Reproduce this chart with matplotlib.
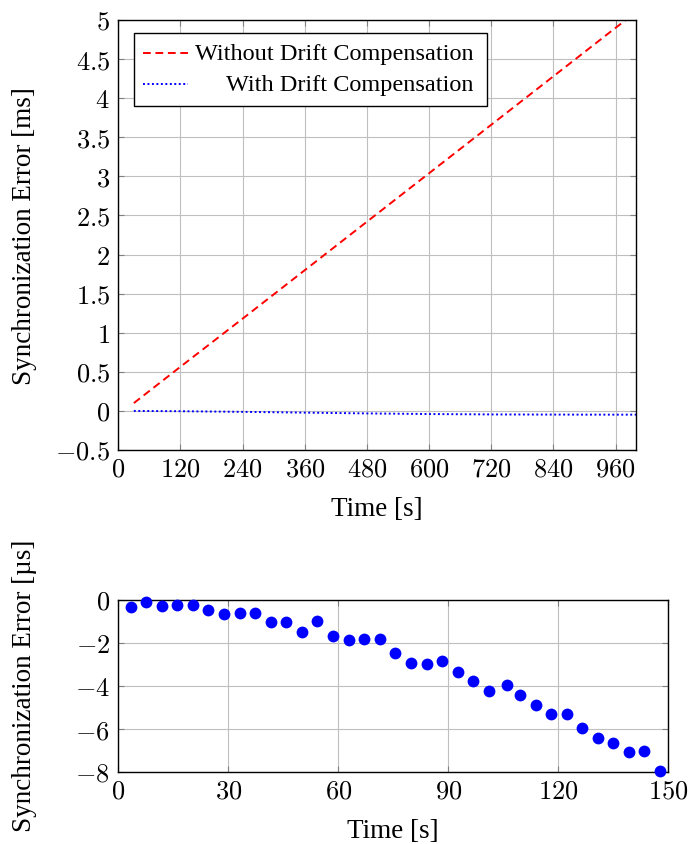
import matplotlib
matplotlib.use("Agg")
import matplotlib.pyplot as plt
from matplotlib.ticker import FuncFormatter
from matplotlib.patches import Rectangle
from matplotlib.lines import Line2D

# ---- data: top chart (long run) ----
t_long = [30, 120, 240, 360, 480, 600, 720, 840, 960, 1000]
err_no_comp = [0.10, 0.565, 1.18, 1.80, 2.42, 3.04, 3.66, 4.28, 4.90, 5.10]
err_comp = [0.000, -0.004, -0.012, -0.022, -0.032, -0.040, -0.045, -0.047, -0.048, -0.048]
legend_labels = ["Without Drift Compensation", "With Drift Compensation"]
x_ticks_top = [0, 120, 240, 360, 480, 600, 720, 840, 960]
y_ticks_top = [-0.5, 0, 0.5, 1, 1.5, 2, 2.5, 3, 3.5, 4, 4.5, 5]

# ---- data: bottom chart (short run, microseconds) ----
t_short = [3.4, 7.6, 11.8, 16.1, 20.4, 24.5, 28.8, 33.1, 37.3, 41.6, 45.8, 50.1,
           54.3, 58.6, 62.8, 67.1, 71.3, 75.5, 79.8, 84.3, 88.3, 92.6, 96.8, 101.1,
           105.9, 109.5, 113.8, 118.1, 122.3, 126.5, 130.8, 135.0, 139.3, 143.5, 147.8]
err_short = [-0.34, -0.08, -0.28, -0.25, -0.22, -0.45, -0.65, -0.62, -0.59, -1.03,
             -1.01, -1.50, -0.96, -1.66, -1.86, -1.83, -1.80, -2.47, -2.94, -2.97,
             -2.86, -3.33, -3.77, -4.22, -3.96, -4.41, -4.87, -5.32, -5.28, -5.97,
             -6.42, -6.64, -7.07, -7.04, -7.97]
x_ticks_bot = [0, 30, 60, 90, 120, 150]
y_ticks_bot = [-8, -6, -4, -2, 0]

plt.rcParams['mathtext.fontset'] = 'cm'
FS_TICK = 19
FS_LAB = 19.5
FS_LEG = 17.5
serif = ['Liberation Serif', 'DejaVu Serif']
LW = 1.4
DASH = (0, (4.0, 2.4))
DOT = (0, (1.0, 1.3))

fig = plt.figure(figsize=(6.91, 8.44), dpi=100)
W, H = 691.0, 844.0

def style(ax):
    ax.grid(True, color='#bfbfbf', linewidth=0.8)
    ax.set_axisbelow(True)
    ax.tick_params(direction='in', length=4.5, width=0.8, color='#808080',
                   top=True, right=True, labelsize=FS_TICK)
    ax.tick_params(axis='x', pad=5)
    ax.tick_params(axis='y', pad=6)
    for s in ax.spines.values():
        s.set_linewidth(1.0)
        s.set_color('black')
    fmt = FuncFormatter(lambda v, p: r'$%g$' % v)
    ax.xaxis.set_major_formatter(fmt)
    ax.yaxis.set_major_formatter(fmt)

# top axes
ax1 = fig.add_axes([118.3 / W, 1 - 450 / H, 518 / W, 430 / H])
ax1.plot(t_long, err_no_comp, color='#ff0000', linewidth=LW, linestyle=DASH)
ax1.plot(t_long, err_comp, color='#0000ff', linewidth=LW, linestyle=DOT)
ax1.set_xlim(0, 1000)
ax1.set_ylim(-0.5, 5)
ax1.set_xticks(x_ticks_top)
ax1.set_yticks(y_ticks_top)
style(ax1)

# manual legend (right aligned text, as in pgfplots)
lx0, lx1 = (134 - 118.3) / 518, (487.3 - 118.3) / 518
ly0, ly1 = (450 - 106) / 430, (450 - 33.3) / 430
ax1.add_patch(Rectangle((lx0, ly0), lx1 - lx0, ly1 - ly0, transform=ax1.transAxes,
                        facecolor='white', edgecolor='black', linewidth=1.0, zorder=5))
hx0, hx1 = (142.7 - 118.3) / 518, (188.3 - 118.3) / 518
for (yline, ybase, col, ls, lab) in [
        ((450 - 53.3) / 430, (450 - 60) / 430, '#ff0000', DASH, legend_labels[0]),
        ((450 - 84.3) / 430, (450 - 91) / 430, '#0000ff', DOT, legend_labels[1])]:
    ax1.add_line(Line2D([hx0, hx1], [yline, yline], transform=ax1.transAxes, color=col,
                        linewidth=LW, linestyle=ls, zorder=6))
    ax1.text((473.3 - 118.3) / 518, ybase, lab, transform=ax1.transAxes, ha='right',
             va='baseline', fontsize=FS_LEG, family=serif, zorder=6)

fig.text(25 / W, 1 - 236 / H, 'Synchronization Error [ms]', rotation=90, ha='center',
         va='center', fontsize=FS_LAB, family=serif)
fig.text(377 / W, 1 - 510 / H, 'Time [s]', ha='center', va='center', fontsize=FS_LAB, family=serif)

# bottom axes
ax2 = fig.add_axes([118.3 / W, 1 - 772 / H, 550 / W, 172 / H])
ax2.plot(t_short, err_short, linestyle='none', marker='o', markersize=8.5,
         color='#0000ff', markeredgewidth=0, clip_on=False, zorder=3)
ax2.set_xlim(0, 150)
ax2.set_ylim(-8, 0)
ax2.set_xticks(x_ticks_bot)
ax2.set_yticks(y_ticks_bot)
style(ax2)

fig.text(25 / W, 1 - 686 / H, 'Synchronization Error [\u00b5s]', rotation=90, ha='center',
         va='center', fontsize=FS_LAB, family=serif)
fig.text(393 / W, 1 - 831 / H, 'Time [s]', ha='center', va='center', fontsize=FS_LAB, family=serif)

fig.savefig('out.png', dpi=100)
